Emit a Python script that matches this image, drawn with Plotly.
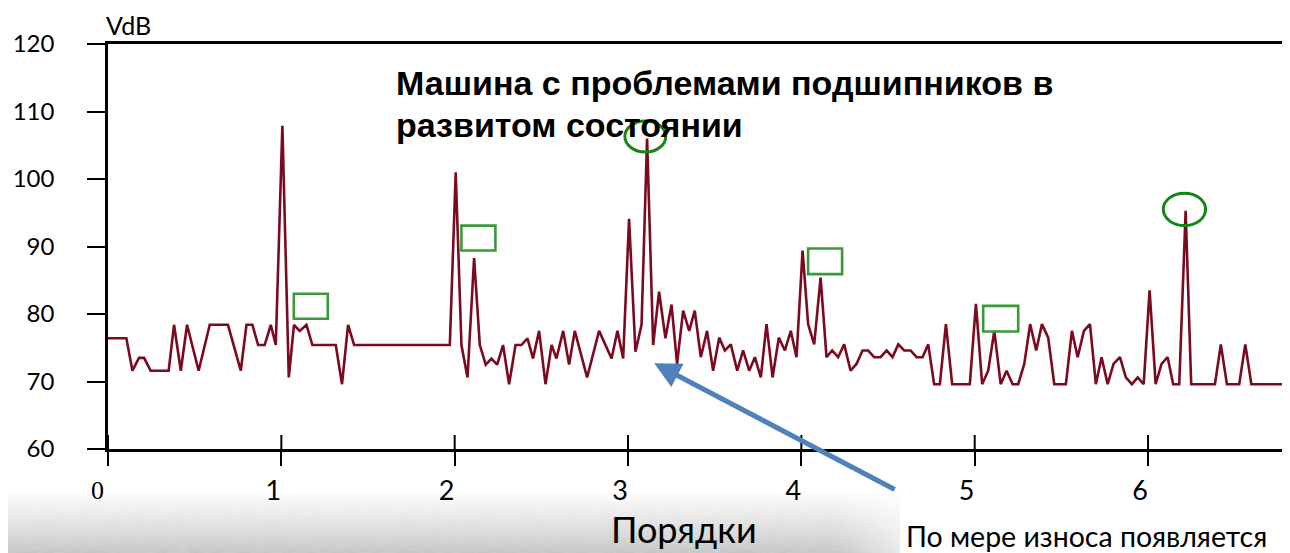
import plotly.graph_objects as go
import base64

# ---------------- data ----------------
orders = [0.000, 0.106, 0.141, 0.179, 0.208, 0.246, 0.350, 0.381, 0.420, 0.456,
          0.523, 0.587, 0.692, 0.766, 0.799, 0.833, 0.866, 0.904, 0.939, 0.968,
          1.006, 1.043, 1.073, 1.106, 1.145, 1.179, 1.314, 1.350, 1.385, 1.420,
          1.972, 2.006, 2.039, 2.074, 2.112, 2.145, 2.179, 2.212, 2.245, 2.279,
          2.314, 2.351, 2.385, 2.420, 2.452, 2.487, 2.524, 2.559, 2.587, 2.626,
          2.660, 2.693, 2.764, 2.833, 2.905, 2.939, 2.972, 3.006, 3.043, 3.078,
          3.110, 3.145, 3.179, 3.216, 3.251, 3.283, 3.318, 3.353, 3.385, 3.420,
          3.456, 3.491, 3.526, 3.559, 3.593, 3.630, 3.664, 3.699, 3.732, 3.766,
          3.799, 3.834, 3.870, 3.905, 3.939, 3.972, 4.007, 4.039, 4.074, 4.111,
          4.145, 4.178, 4.212, 4.247, 4.284, 4.318, 4.353, 4.385, 4.420, 4.457,
          4.492, 4.526, 4.559, 4.593, 4.630, 4.665, 4.699, 4.732, 4.766, 4.799,
          4.834, 4.870, 4.972, 5.007, 5.043, 5.078, 5.113, 5.150, 5.184, 5.219,
          5.251, 5.286, 5.320, 5.355, 5.388, 5.424, 5.459, 5.526, 5.561, 5.594,
          5.630, 5.665, 5.699, 5.732, 5.767, 5.801, 5.838, 5.872, 5.907, 5.940,
          5.975, 6.009, 6.044, 6.078, 6.113, 6.145, 6.180, 6.217, 6.249, 6.386,
          6.420, 6.455, 6.526, 6.561, 6.596, 6.819]

vdb = [76.4, 76.4, 71.6, 73.5, 73.5, 71.6, 71.6, 78.4, 71.6, 78.4,
       71.6, 78.4, 78.4, 71.6, 78.4, 78.4, 75.4, 75.4, 78.4, 75.4,
       107.9, 70.6, 78.4, 77.5, 78.4, 75.4, 75.4, 69.6, 78.4, 75.4,
       75.4, 101.0, 75.4, 70.6, 88.3, 75.4, 72.5, 73.4, 72.5, 75.4,
       69.6, 75.4, 75.4, 76.4, 73.4, 77.5, 69.6, 75.4, 73.4, 77.5,
       72.5, 77.5, 70.6, 77.5, 73.4, 77.5, 73.4, 94.1, 74.4, 78.4,
       106.0, 75.4, 83.3, 76.4, 81.4, 72.6, 80.5, 77.5, 80.5, 73.6,
       77.5, 71.6, 76.5, 74.6, 75.5, 71.6, 74.6, 71.6, 73.6, 70.6,
       78.5, 70.6, 76.5, 74.6, 77.5, 73.6, 89.4, 78.5, 75.5, 85.4,
       73.6, 74.6, 73.6, 75.5, 71.6, 72.6, 74.6, 74.6, 73.6, 73.6,
       74.6, 73.6, 75.5, 74.6, 74.6, 73.6, 73.6, 75.5, 69.6, 69.6,
       78.5, 69.6, 69.6, 81.5, 69.6, 71.6, 77.5, 69.6, 71.6, 69.6,
       69.6, 72.6, 78.5, 74.6, 78.5, 76.5, 69.6, 69.6, 77.5, 73.6,
       77.5, 78.5, 69.6, 73.6, 69.6, 72.6, 73.6, 70.6, 69.6, 70.6,
       69.6, 83.5, 69.6, 72.6, 73.6, 69.6, 69.6, 95.3, 69.6, 69.6,
       75.5, 69.6, 69.6, 75.5, 69.6, 69.6]

x_ticks = [0, 1, 2, 3, 4, 5, 6]
x_tick_labels = ["0", "1", "2", "3", "4", "5", "6"]
y_ticks = [60, 70, 80, 90, 100, 110, 120]

title_line1 = "Машина с проблемами подшипников в"
title_line2 = "развитом состоянии"
y_unit = "VdB"
x_title = "Порядки"
note_text = "По мере износа появляется"

# highlighted regions (orders, dB)
rect_boxes = [(1.072, 1.268, 79.3, 83.0),
              (2.039, 2.235, 89.4, 93.1),
              (4.039, 4.235, 85.9, 89.7),
              (5.049, 5.251, 77.4, 81.2)]
ellipse_boxes = [(2.982, 3.218, 104.0, 108.6),
                 (6.088, 6.332, 93.1, 97.9)]

LINE_COLOR = "#7b0a1f"
CAL = "Lato, 'Open Sans', sans-serif"
PW, PH = 1182, 405  # plot area size in px


def px(x):
    return (x - 108) / PW


def py(y):
    return (449 - y) / PH


fig = go.Figure()
fig.add_trace(go.Scatter(x=orders, y=vdb, mode="lines",
                         line=dict(color=LINE_COLOR, width=2.6),
                         hoverinfo="skip", showlegend=False))

shapes = []
# upper half of the crossing x ticks
for v in x_ticks:
    shapes.append(dict(type="line", xref="x", yref="paper", x0=v, x1=v,
                       y0=0, y1=14 / PH, line=dict(color="black", width=2)))
for (x0, x1, y0, y1) in rect_boxes:
    shapes.append(dict(type="rect", xref="x", yref="y", x0=x0, x1=x1, y0=y0, y1=y1,
                       line=dict(color="#3a9a3a", width=2.6)))
for (x0, x1, y0, y1) in ellipse_boxes:
    shapes.append(dict(type="circle", xref="x", yref="y", x0=x0, x1=x1, y0=y0, y1=y1,
                       line=dict(color="#168516", width=3)))

# the "0" label is drawn in a serif face in the original, so it is set apart
tick_text = [""] + x_tick_labels[1:]

annotations = [
    dict(text=x_tick_labels[0], xref="x", yref="paper", x=x_ticks[0], y=py(490),
         xanchor="center", yanchor="middle", xshift=-11, showarrow=False,
         font=dict(family="'Liberation Serif', 'DejaVu Serif', serif", size=26, color="black")),
    dict(text="<b>" + title_line1 + "</b>", xref="paper", yref="paper",
         x=px(394), y=py(83), xanchor="left", yanchor="middle",
         showarrow=False, font=dict(family="Liberation Sans, Arial", size=34, color="black")),
    dict(text="<b>" + title_line2 + "</b>", xref="paper", yref="paper",
         x=px(394), y=py(125), xanchor="left", yanchor="middle",
         showarrow=False, font=dict(family="Liberation Sans, Arial", size=34, color="black")),
    dict(text=y_unit, xref="paper", yref="paper", x=px(104), y=py(25),
         xanchor="left", yanchor="middle", showarrow=False,
         font=dict(family=CAL, size=25, color="black")),
    dict(text=x_title, xref="paper", yref="paper", x=px(684), y=py(529),
         xanchor="center", yanchor="middle", showarrow=False,
         font=dict(family=CAL, size=36, color="black")),
    dict(text=note_text, xref="paper", yref="paper", x=px(904), y=py(536),
         xanchor="left", yanchor="middle", showarrow=False, bgcolor="white",
         font=dict(family=CAL, size=28.5, color="black")),
    dict(text="", x=3.151, y=72.7, xref="x", yref="y", ax=242, ay=127,
         showarrow=True, arrowhead=2, arrowsize=1.05, arrowwidth=5, arrowcolor="#4f81bd",
         standoff=0),
]

# bottom grey textured strip (decoration)
svg = ("<svg xmlns='http://www.w3.org/2000/svg' width='900' height='62'>"
       "<defs><linearGradient id='g' x1='0' y1='0' x2='0' y2='1'>"
       "<stop offset='0' stop-color='#dadada' stop-opacity='0'/>"
       "<stop offset='0.45' stop-color='#d6d6d6' stop-opacity='0.55'/>"
       "<stop offset='1' stop-color='#c4c4c4' stop-opacity='1'/></linearGradient>"
       "<linearGradient id='v' x1='0' y1='0' x2='0' y2='1'>"
       "<stop offset='0' stop-color='white' stop-opacity='0'/>"
       "<stop offset='1' stop-color='white' stop-opacity='1'/></linearGradient>"
       "<linearGradient id='h' x1='0' y1='0' x2='1' y2='0'>"
       "<stop offset='0' stop-color='white' stop-opacity='1'/>"
       "<stop offset='0.93' stop-color='white' stop-opacity='1'/>"
       "<stop offset='1' stop-color='white' stop-opacity='0.4'/></linearGradient>"
       "<filter id='n' x='0' y='0' width='1' height='1'>"
       "<feTurbulence type='fractalNoise' baseFrequency='0.09 0.3' numOctaves='3' seed='4'/>"
       "<feColorMatrix type='matrix' values='0 0 0 0 0.68 0 0 0 0 0.68 0 0 0 0 0.68 0 0 0 1.2 -0.35'/></filter>"
       "<mask id='m'><rect width='900' height='62' fill='url(#h)'/></mask>"
       "<mask id='mv'><rect width='900' height='62' fill='url(#v)'/></mask></defs>"
       "<g mask='url(#m)'><rect width='900' height='62' fill='url(#g)'/>"
       "<g mask='url(#mv)'><rect width='900' height='62' filter='url(#n)' opacity='0.7'/></g></g></svg>")
svg_uri = "data:image/svg+xml;base64," + base64.b64encode(svg.encode()).decode()

images = [dict(source=svg_uri, xref="paper", yref="paper",
               x=px(0), y=py(491), sizex=900 / PW, sizey=62 / PH,
               xanchor="left", yanchor="top", sizing="stretch", layer="below")]

# the page adds an 8px body margin, so the figure is 8px smaller on each side
fig.update_layout(
    width=1282, height=545,
    margin=dict(l=100, r=0, t=36, b=104, pad=0),
    paper_bgcolor="white", plot_bgcolor="rgba(0,0,0,0)",
    shapes=shapes, annotations=annotations, images=images,
    showlegend=False,
    xaxis=dict(range=[0, 6.819], tickvals=x_ticks, ticktext=tick_text,
               showgrid=False, zeroline=False, showline=True, linecolor="black",
               linewidth=2.5, mirror=True, ticks="outside", ticklen=14, tickwidth=2,
               tickcolor="black", ticklabelshift=-8, ticklabelstandoff=2,
               tickfont=dict(family=CAL, size=27, color="black")),
    yaxis=dict(range=[60, 120], tickvals=y_ticks, showgrid=False, zeroline=False,
               showline=True, linecolor="black", linewidth=2.5, ticks="outside",
               ticklen=18, tickwidth=2, tickcolor="black", ticklabelstandoff=28,
               tickfont=dict(family=CAL, size=24, color="black")),
)

fig.write_html("out.html")
